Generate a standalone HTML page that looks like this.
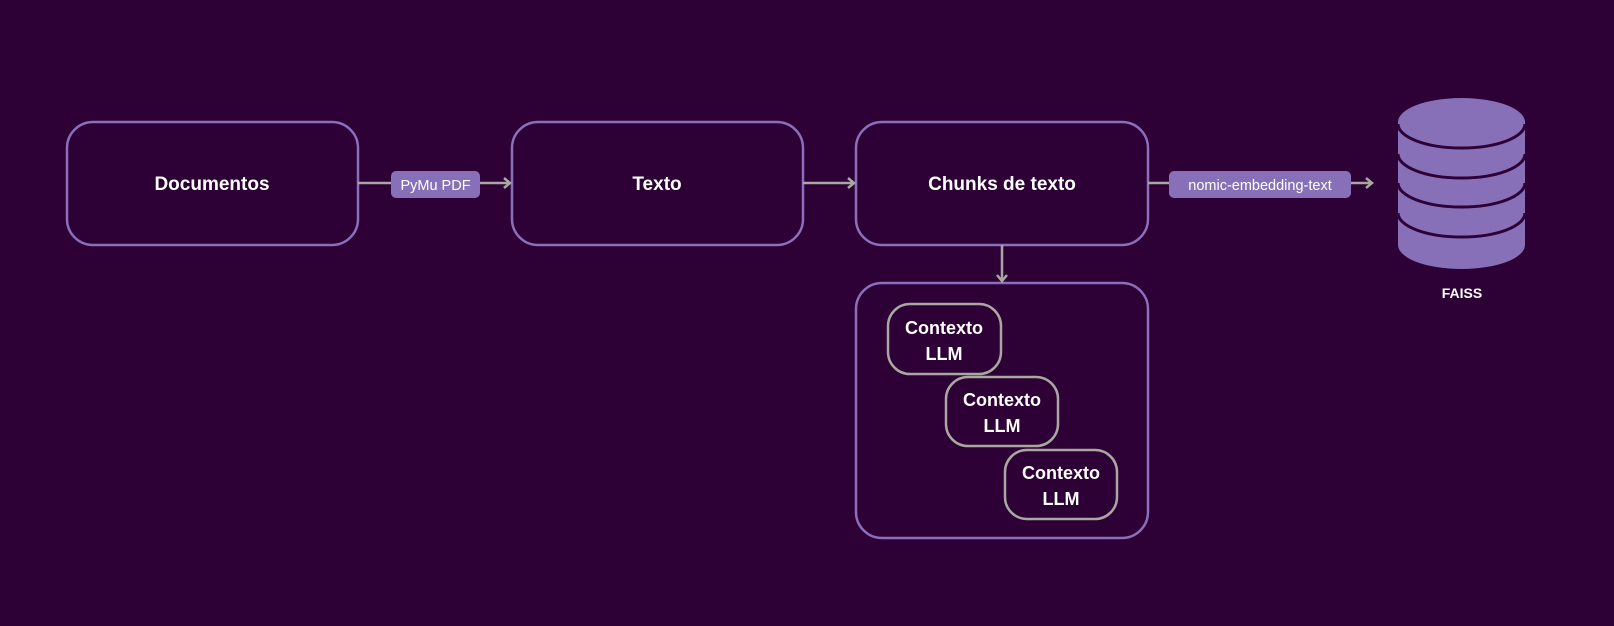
<!DOCTYPE html>
<html><head><meta charset="utf-8"><style>
html,body{margin:0;padding:0;background:#2d0036;}
svg{display:block}
text{font-family:"Liberation Sans",sans-serif;}
</style></head><body>
<svg width="1614" height="626" viewBox="0 0 1614 626" xmlns="http://www.w3.org/2000/svg">
<rect width="1614" height="626" fill="#2d0036"/>
<defs>
<marker id="ah" markerWidth="12" markerHeight="12" refX="9" refY="6" orient="auto" markerUnits="userSpaceOnUse">
<path d="M3,1 L9,6 L3,11" fill="none" stroke="#a8a8a0" stroke-width="2.5"/>
</marker>
</defs>
<g fill="none" stroke="#8b6fba" stroke-width="2.5">
<rect x="67" y="122" width="291" height="123" rx="26"/>
<rect x="512" y="122" width="291" height="123" rx="26"/>
<rect x="856" y="122" width="292" height="123" rx="26"/>
<rect x="856" y="283" width="292" height="255" rx="26"/>
</g>
<g fill="none" stroke="#a8a8a0" stroke-width="2.5">
<line x1="358" y1="183" x2="510" y2="183" marker-end="url(#ah)"/>
<line x1="803" y1="183" x2="854" y2="183" marker-end="url(#ah)"/>
<line x1="1148" y1="183" x2="1372" y2="183" marker-end="url(#ah)"/>
<line x1="1002" y1="245" x2="1002" y2="281" marker-end="url(#ah)"/>
<rect x="888" y="304" width="113" height="70" rx="22"/>
<rect x="946" y="377" width="112" height="69" rx="22"/>
<rect x="1005" y="450" width="112" height="69" rx="22"/>
</g>
<rect x="391" y="171" width="89" height="27" rx="5" fill="#8870b8"/>
<text x="435.5" y="190" font-size="14.5" fill="#fff" text-anchor="middle">PyMu PDF</text>
<rect x="1169" y="171" width="182" height="27" rx="5" fill="#8870b8"/>
<text x="1260" y="190" font-size="14.5" fill="#fff" text-anchor="middle">nomic-embedding-text</text>
<g font-weight="bold" fill="#fff" text-anchor="middle" font-size="19">
<text x="212" y="190">Documentos</text>
<text x="657" y="190">Texto</text>
<text x="1002" y="190">Chunks de texto</text>
</g>
<g font-weight="bold" fill="#fff" text-anchor="middle" font-size="18">
<text x="944" y="334">Contexto</text><text x="944" y="360">LLM</text>
<text x="1002" y="406">Contexto</text><text x="1002" y="432">LLM</text>
<text x="1061" y="479">Contexto</text><text x="1061" y="505">LLM</text>
</g>
<g>
<path d="M1398,122 A63.5,24 0 0 1 1525,122 L1525,245 A63.5,24 0 0 1 1398,245 Z" fill="#8870b8"/>
<g fill="none" stroke="#2d0036" stroke-width="3">
<path d="M1398,124 A63.5,24 0 0 0 1525,124"/>
<path d="M1398,154 A63.5,24 0 0 0 1525,154"/>
<path d="M1398,183 A63.5,24 0 0 0 1525,183"/>
<path d="M1398,213 A63.5,24 0 0 0 1525,213"/>
</g>
</g>
<text x="1462" y="298" font-size="14" font-weight="bold" fill="#fff" text-anchor="middle">FAISS</text>
</svg>
</body></html>
